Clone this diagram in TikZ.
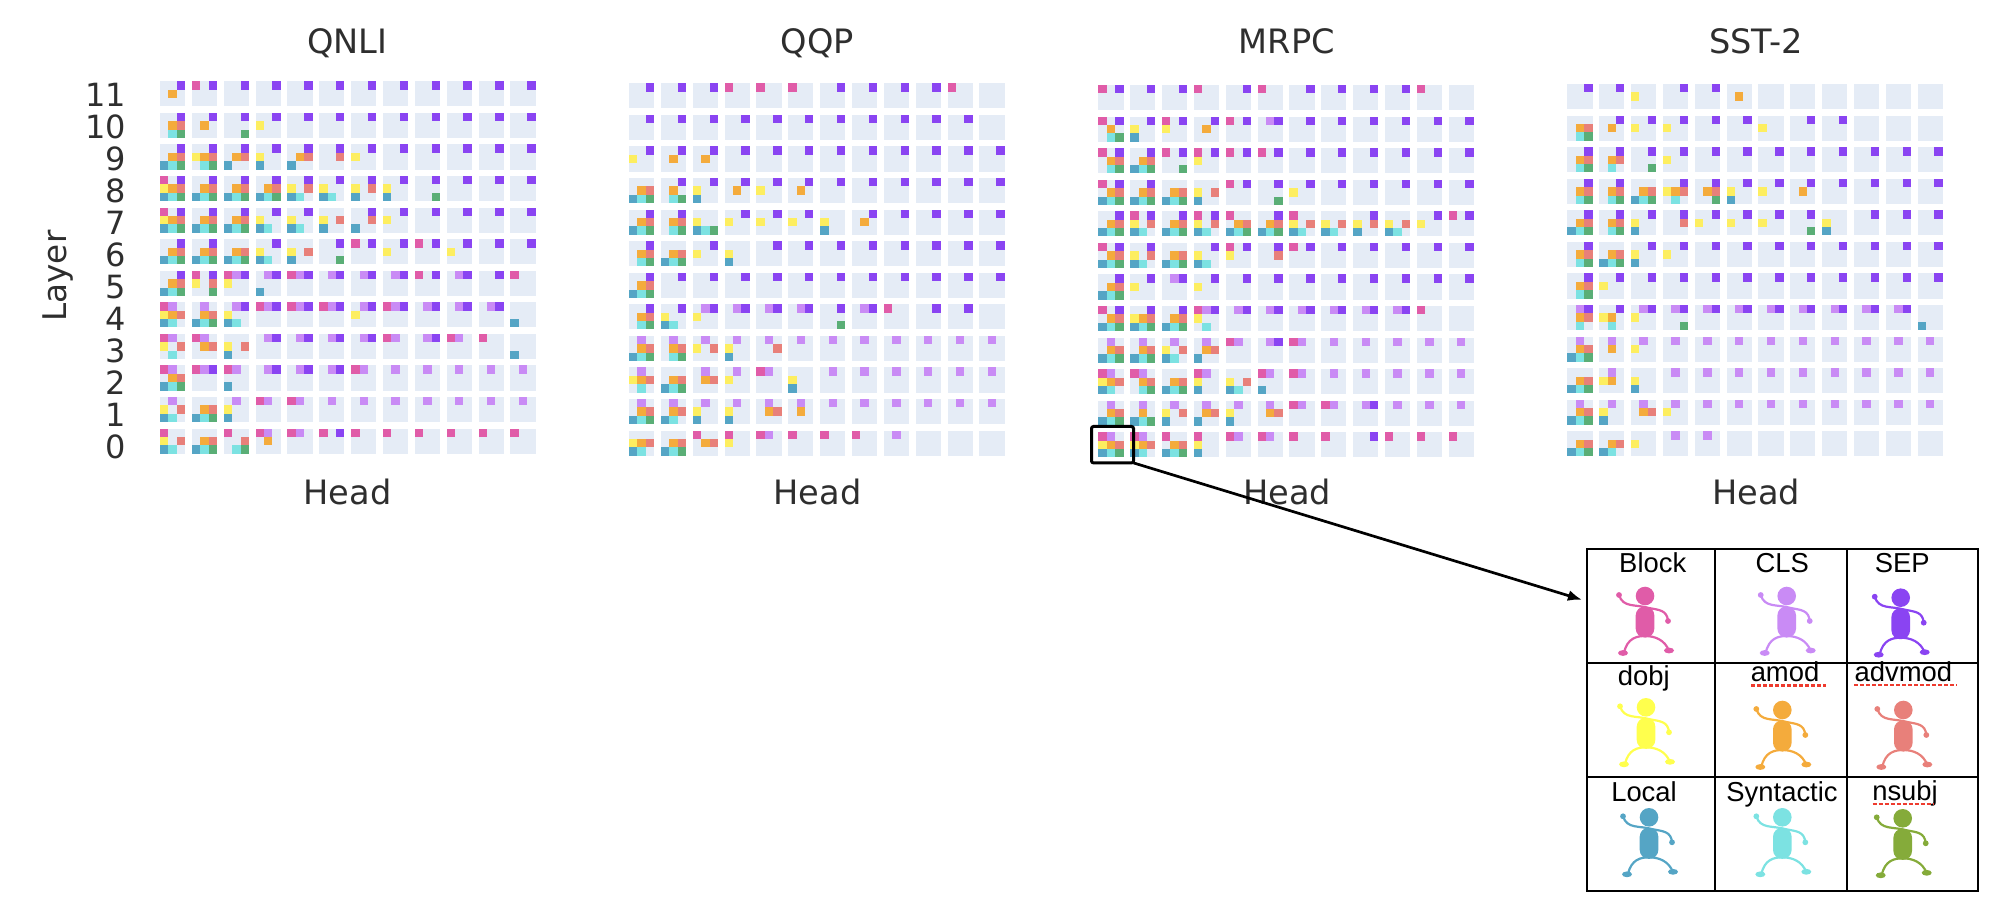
\documentclass[tikz,border=0pt]{standalone}
\usepackage{fontspec}
\setmainfont{DejaVu Sans}
\newfontfamily\legendfont{Liberation Sans}
\usetikzlibrary{arrows.meta}
\definecolor{cellgray}{HTML}{E5ECF6}
\definecolor{axisgray}{HTML}{2E2E2E}
\definecolor{blockc}{HTML}{E05CA8}
\definecolor{clsc}{HTML}{C98BF5}
\definecolor{sepc}{HTML}{8A44F2}
\definecolor{dobjc}{HTML}{FDEE60}
\definecolor{amodc}{HTML}{F4AB3C}
\definecolor{advmodc}{HTML}{E8807A}
\definecolor{localc}{HTML}{55A5C5}
\definecolor{syntc}{HTML}{7CE2E2}
\definecolor{nsubjc}{HTML}{5AAE76}
\definecolor{dobjman}{HTML}{FFFF4D}
\definecolor{nsubjman}{HTML}{85AB3A}
\definecolor{spellred}{HTML}{EE3B2E}
\tikzset{
  cellbg/.style={fill=cellgray},
  sqb/.style={fill=blockc},
  sqc/.style={fill=clsc, shift={(8.4,0)}},
  sqs/.style={fill=sepc, shift={(16.8,0)}},
  sqd/.style={fill=dobjc, shift={(0,8.4)}},
  sqa/.style={fill=amodc, shift={(8.4,8.4)}},
  sqv/.style={fill=advmodc, shift={(16.8,8.4)}},
  sql/.style={fill=localc, shift={(0,16.8)}},
  sqy/.style={fill=syntc, shift={(8.4,16.8)}},
  sqn/.style={fill=nsubjc, shift={(16.8,16.8)}},
  ticklabel/.style={text=axisgray, inner sep=0pt, font=\fontsize{16}{18}\selectfont},
  axislabel/.style={text=axisgray, inner sep=0pt, font=\fontsize{16.8}{18}\selectfont},
  legendlabel/.style={text=black, inner sep=0pt, anchor=base, font=\legendfont\fontsize{13.7}{15}\selectfont},
  tablecell/.style={draw, line width=0.85pt, inner sep=0pt, outer sep=0pt, minimum height=57pt, minimum width=#1},
  spellmark/.style={draw=spellred, line width=1.3pt, dash pattern=on 2pt off 1pt},
  pics/walker/.style={code={
    \fill[#1] (0,0) circle [radius=9.3];
    \fill[#1, rounded corners=4.4pt] (-9.3,10.5) rectangle (9.3,41.5);
    \draw[#1, line width=1.1pt] (-26,-1) .. controls (-22,12) and (-10,8) .. (4,12) .. controls (14,14) and (22,14) .. (23,25);
    \fill[#1] (-26,-1) circle [radius=2.9];
    \fill[#1] (23,25) circle [radius=2.9];
    \draw[#1, line width=1.1pt] (-21,57) .. controls (-18,42) and (-8,40) .. (0,40) .. controls (10,40) and (20,44) .. (24,55);
    \fill[#1] (-22,57) ellipse [x radius=5, y radius=2.9];
    \fill[#1] (24,54.5) ellipse [x radius=5, y radius=2.9];
  }}
}
\newcommand{\putsq}[1]{\ifx#1.\else\fill[sq#1] (\cx,\cy) rectangle ++(8.4,8.4);\expandafter\putsq\fi}
\newcommand{\headrow}[4]{%
  \foreach \code [count=\hd from 0] in {#4} {
    \pgfmathsetmacro{\cx}{#1+31.85*\hd}
    \pgfmathsetmacro{\cy}{#2+31.57*#3}
    \fill[cellbg] (\cx,\cy) rectangle ++(25.2,25.2);
    \expandafter\putsq\code.
  }%
}
\begin{document}
\begin{tikzpicture}[x=0.5pt,y=-0.5pt]
  \useasboundingbox (0,0) rectangle (2000,897);
  \headrow{160}{81.3}{0}{as,bs,s,s,s,s,s,s,s,s,s,s}
  \headrow{160}{81.3}{1}{savyn,as,sn,sd,s,s,s,s,s,s,s,s}
  \headrow{160}{81.3}{2}{savlyn,sdavyn,savl,sdl,savl,sv,sd,s,s,s,s,s}
  \headrow{160}{81.3}{3}{bsdavlyn,savlyn,savlyn,savlyn,sdvly,sdly,sdvl,sdl,sn,s,s,s}
  \headrow{160}{81.3}{4}{bsdavlyn,savlyn,savlyn,sdly,sdly,dvl,svl,sd,s,s,s,s}
  \headrow{160}{81.3}{5}{savlyn,savlyn,avlyn,sdly,dvl,sn,bs,sd,bs,sd,s,s}
  \headrow{160}{81.3}{6}{savlyn,bsdvn,bcsd,csl,bcs,cs,cs,cs,bs,cs,s,b}
  \headrow{160}{81.3}{7}{bcdavly,cavlyn,csdly,bcs,bcs,bcs,csd,bcs,cs,cs,cs,l}
  \headrow{160}{81.3}{8}{bcdvy,bcav,dvl,cs,cs,cs,cs,bc,cs,bc,b,l}
  \headrow{160}{81.3}{9}{bcavlyn,bcs,bcl,cs,cs,cs,bc,c,c,c,c,c}
  \headrow{160}{81.3}{10}{cdvly,avlyn,cdl,bc,bc,c,c,c,c,c,c,c}
  \headrow{160}{81.3}{11}{bdvly,avlyn,bvyn,bca,bc,bs,b,b,b,b,b,b}
  \headrow{629}{83.3}{0}{s,s,s,b,b,b,s,s,s,s,b,{}}
  \headrow{629}{83.3}{1}{s,s,s,s,s,s,s,s,s,s,s,{}}
  \headrow{629}{83.3}{2}{sd,sa,sa,s,s,s,s,s,s,s,s,s}
  \headrow{629}{83.3}{3}{avlyn,sayn,sdl,sa,sd,sa,s,s,s,s,s,s}
  \headrow{629}{83.3}{4}{savlyn,savyn,dlyn,sd,sd,sd,dl,sa,s,s,s,s}
  \headrow{629}{83.3}{5}{savyn,avlyn,sd,dl,s,s,s,s,s,s,s,s}
  \headrow{629}{83.3}{6}{savlyn,s,s,s,s,s,s,s,s,s,s,s}
  \headrow{629}{83.3}{7}{savyn,sdly,csd,cs,cs,cs,sn,cs,b,s,s,{}}
  \headrow{629}{83.3}{8}{cavlyn,cavyn,cdv,cdl,cv,c,c,c,c,c,c,c}
  \headrow{629}{83.3}{9}{cdavy,avlyn,cav,cd,bc,dl,c,c,c,c,c,c}
  \headrow{629}{83.3}{10}{cavlyn,cavly,cdl,cdl,cav,ca,c,c,c,c,c,c}
  \headrow{629}{83.3}{11}{davly,avlyn,bav,bd,bc,b,b,b,c,{},{},{}}
  \headrow{1098.3}{85}{0}{bs,s,s,b,s,b,s,s,s,s,b,{}}
  \headrow{1098.3}{85}{1}{bsayn,sdl,bsd,sa,bs,cs,s,s,s,s,s,s}
  \headrow{1098.3}{85}{2}{bsavyn,savlyn,bsn,bsd,bs,bs,s,s,s,s,s,s}
  \headrow{1098.3}{85}{3}{bsavlyn,savlyn,avlyn,dvl,bs,sn,sd,s,s,s,s,s}
  \headrow{1098.3}{85}{4}{savlyn,bsdvly,savlyn,bsdvly,bavlyn,savlyn,bdvly,dvly,sdvl,dvly,sd,bs}
  \headrow{1098.3}{85}{5}{bsavlyn,sdvly,avlyn,sdly,bsd,sv,bs,s,s,s,s,s}
  \headrow{1098.3}{85}{6}{savlyn,sd,cs,sd,s,s,s,s,s,s,s,s}
  \headrow{1098.3}{85}{7}{bsavlyn,sdavlyn,savlyn,bcsdy,cs,cs,cs,cs,cs,cs,b,{}}
  \headrow{1098.3}{85}{8}{cavlyn,cavlyn,cdvly,cavl,bc,cs,bc,c,c,c,c,c}
  \headrow{1098.3}{85}{9}{bcdavly,bcavyn,avlyn,bcdl,dvly,bcl,bc,c,c,c,c,c}
  \headrow{1098.3}{85}{10}{cavlyn,calyn,cdvl,cavl,cdl,cav,bc,bc,cs,c,c,c}
  \headrow{1098.3}{85}{11}{bcdavlyn,bcdavly,bavlyn,bdl,bc,bc,b,b,s,b,b,b}
  \headrow{1567.3}{84}{0}{s,s,d,s,s,a,{},{},{},{},{},{}}
  \headrow{1567.3}{84}{1}{avyn,sa,sd,sd,s,s,d,s,s,{},{},{}}
  \headrow{1567.3}{84}{2}{savyn,savy,sn,sd,s,s,s,s,s,s,s,s}
  \headrow{1567.3}{84}{3}{savyn,savyn,avlyn,sdavy,savn,sdl,sd,sa,s,s,s,s}
  \headrow{1567.3}{84}{4}{savlyn,savyn,sdl,sv,sd,sd,sd,sn,dl,s,s,s}
  \headrow{1567.3}{84}{5}{savyn,avlyn,sdl,sd,s,s,s,s,s,s,s,s}
  \headrow{1567.3}{84}{6}{savyn,sd,s,s,s,s,s,s,s,s,s,s}
  \headrow{1567.3}{84}{7}{csavy,sday,csd,csn,cs,cs,cs,cs,cs,cs,cs,l}
  \headrow{1567.3}{84}{8}{cavlyn,ca,cd,c,c,c,c,c,c,c,c,c}
  \headrow{1567.3}{84}{9}{avlyn,cda,dl,c,c,c,c,c,c,c,c,c}
  \headrow{1567.3}{84}{10}{cavlyn,cdl,cav,cd,c,c,c,c,c,c,c,c}
  \headrow{1567.3}{84}{11}{avlyn,avly,d,c,c,{},{},{},{},{},{},{}}
  \node[axislabel, anchor=base] (qnli) at (347.5,54) {QNLI};
  \node[axislabel, anchor=base] (qqp) at (817.5,54) {QQP};
  \node[axislabel, anchor=base] (mrpc) at (1287,54) {MRPC};
  \node[axislabel, anchor=base] (sst) at (1756,54) {SST-2};
  \node[axislabel] (headq) at (347.5,492) {Head};
  \node[axislabel] (headp) at (817.5,492) {Head};
  \node[axislabel] (headm) at (1287,492) {Head};
  \node[axislabel] (heads) at (1756,492) {Head};
  \node[ticklabel, font=\fontsize{16.3}{18}\selectfont, rotate=90] (layer) at (58,276) {Layer};
  \foreach \lay in {0,...,11}
    \node[ticklabel, anchor=east] (tick\lay) at (126.5,{447-31.97*\lay}) {\lay};
  \node[tablecell=64.15pt] (blockcell) at (1650.85,605.7) {};
  \node[tablecell=65.85pt] (clscell) at (1780.85,605.7) {};
  \node[tablecell=65.65pt] (sepcell) at (1912.35,605.7) {};
  \node[tablecell=64.15pt] (dobjcell) at (1650.85,719.7) {};
  \node[tablecell=65.85pt] (amodcell) at (1780.85,719.7) {};
  \node[tablecell=65.65pt] (advmodcell) at (1912.35,719.7) {};
  \node[tablecell=64.15pt] (localcell) at (1650.85,833.7) {};
  \node[tablecell=65.85pt] (syntcell) at (1780.85,833.7) {};
  \node[tablecell=65.65pt] (nsubjcell) at (1912.35,833.7) {};
  \node[legendlabel] (blocktxt) at (1652.7,572.7) {Block};
  \node[legendlabel] (clstxt) at (1782.3,572) {CLS};
  \node[legendlabel] (septxt) at (1902.3,572.7) {SEP};
  \node[legendlabel] (dobjtxt) at (1643.7,685) {dobj};
  \node[legendlabel] (amodtxt) at (1785,681.7) {amod};
  \node[legendlabel] (advmodtxt) at (1903.3,681.7) {advmod};
  \node[legendlabel] (localtxt) at (1644,801.7) {Local};
  \node[legendlabel] (synttxt) at (1782,801.7) {Syntactic};
  \node[legendlabel] (nsubjtxt) at (1905,800.7) {nsubj};
  \draw[spellmark] (1751,685.7) -- (1825.7,685.7);
  \draw[spellmark] (1854.3,685) -- (1956.7,685);
  \draw[spellmark] (1872.7,804) -- (1933.3,804);
  \pic (blockfig) at (1645,596) {walker=blockc};
  \pic (clsfig) at (1786.7,596) {walker=clsc};
  \pic (sepfig) at (1900.7,597.7) {walker=sepc};
  \pic (dobjfig) at (1646,707.3) {walker=dobjman};
  \pic (amodfig) at (1782.3,710) {walker=amodc};
  \pic (advmodfig) at (1903.3,710) {walker=advmodc};
  \pic (localfig) at (1649,817.3) {walker=localc};
  \pic (syntfig) at (1782.3,817.3) {walker=syntc};
  \pic (nsubjfig) at (1902.7,818.3) {walker=nsubjman};
  \node[draw, line width=1.5pt, rounded corners=1pt, inner sep=0pt, outer sep=0pt, minimum width=21pt, minimum height=18.2pt] (zoombox) at (1112.5,444.7) {};
  \draw[line width=1.35pt, -{Latex[length=7pt,width=5.5pt]}, shorten >=2.5pt] (zoombox.south east) -- (blockcell.176);
\end{tikzpicture}
\end{document}
